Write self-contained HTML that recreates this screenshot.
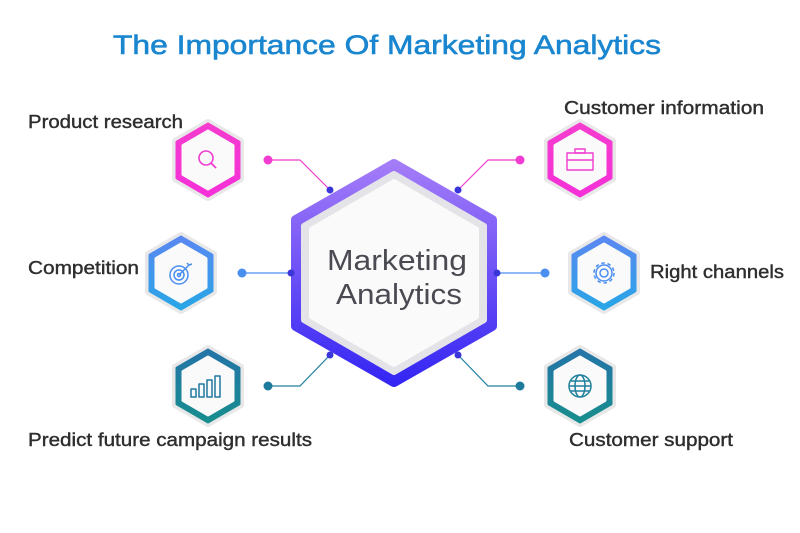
<!DOCTYPE html>
<html><head><meta charset="utf-8"><style>
html,body{margin:0;padding:0;background:#fff;}
svg{display:block;font-family:"Liberation Sans",sans-serif;}
</style></head><body>
<svg width="800" height="533" viewBox="0 0 800 533" xmlns="http://www.w3.org/2000/svg">
<defs>
<linearGradient id="gc" x1="0" y1="0" x2="0" y2="1"><stop offset="0" stop-color="#a47cf8"/><stop offset="1" stop-color="#3526f4"/></linearGradient>
<linearGradient id="gp" x1="0" y1="0" x2="0" y2="1"><stop offset="0" stop-color="#f53ccf"/><stop offset="1" stop-color="#f530d8"/></linearGradient>
<linearGradient id="gb" x1="0" y1="0" x2="0" y2="1"><stop offset="0" stop-color="#5a88f2"/><stop offset="1" stop-color="#28a6e6"/></linearGradient>
<linearGradient id="gt" x1="0" y1="0" x2="0" y2="1"><stop offset="0" stop-color="#2474a8"/><stop offset="1" stop-color="#188e8e"/></linearGradient>
</defs>
<text x="113" y="54" font-size="27" fill="#1a86d0" stroke="#1a86d0" stroke-width="0.6" textLength="548" lengthAdjust="spacingAndGlyphs">The Importance Of Marketing Analytics</text>

<g stroke-width="1.2" fill="none">
<polyline points="268,160 300,160 330,190" stroke="#f03cd0"/>
<polyline points="520,160 488,160 458,190" stroke="#f03cd0"/>
<polyline points="242,273 291,273" stroke="#4a8ef0"/>
<polyline points="545,273 497,273" stroke="#4a8ef0"/>
<polyline points="268,386 300,386 330,355" stroke="#2080a0"/>
<polyline points="520,386 488,386 458,355" stroke="#2080a0"/>
</g>
<g>
<circle cx="268" cy="160" r="4.5" fill="#f03cd0"/><circle cx="520" cy="160" r="4.5" fill="#f03cd0"/>
<circle cx="242" cy="273" r="4.5" fill="#4a8ef0"/><circle cx="545" cy="273" r="4.5" fill="#4a8ef0"/>
<circle cx="268" cy="386" r="4.5" fill="#1f7b9c"/><circle cx="520" cy="386" r="4.5" fill="#1f7b9c"/>
</g>

<polygon points="394,164 492,220 492,326 394,382 296,326 296,220" fill="url(#gc)" stroke="url(#gc)" stroke-width="10" stroke-linejoin="round"/>
<polygon points="394,174 484,226 484,320 394,372 304,320 304,226" fill="#e4e4e8" stroke="#e4e4e8" stroke-width="6" stroke-linejoin="round"/>
<polygon points="394,181 477,229 477,317 394,365 311,317 311,229" fill="#fafafa" stroke="#fafafa" stroke-width="4" stroke-linejoin="round"/>
<g fill="#3b36d8"><circle cx="330" cy="190" r="3.5"/><circle cx="458" cy="190" r="3.5"/><circle cx="291" cy="273" r="3.5"/><circle cx="497" cy="273" r="3.5"/><circle cx="330" cy="355" r="3.5"/><circle cx="458" cy="355" r="3.5"/></g>
<text x="397" y="270" font-size="29" fill="#4a4a52" text-anchor="middle" textLength="140" lengthAdjust="spacingAndGlyphs">Marketing</text>
<text x="399" y="304" font-size="29" fill="#4a4a52" text-anchor="middle" textLength="126" lengthAdjust="spacingAndGlyphs">Analytics</text>

<g stroke-linejoin="round">
<g transform="translate(208,160)">
<polygon points="0,-38 33,-19 33,19 0,38 -33,19 -33,-19" fill="#e8e8e8" stroke="#e8e8e8" stroke-width="6"/>
<polygon points="0,-36 31,-18 31,18 0,36 -31,18 -31,-18" fill="url(#gp)" stroke="url(#gp)" stroke-width="3"/>
<polygon points="0,-29 25,-14.5 25,14.5 0,29 -25,14.5 -25,-14.5" fill="#fafafa" stroke="#fafafa" stroke-width="3"/>
<circle cx="-2" cy="-2" r="7" fill="none" stroke="#f03cd0" stroke-width="1.6"/><line x1="3" y1="3" x2="8" y2="8" stroke="#f03cd0" stroke-width="1.8"/>
</g>
<g transform="translate(580,160)">
<polygon points="0,-38 33,-19 33,19 0,38 -33,19 -33,-19" fill="#e8e8e8" stroke="#e8e8e8" stroke-width="6"/>
<polygon points="0,-36 31,-18 31,18 0,36 -31,18 -31,-18" fill="url(#gp)" stroke="url(#gp)" stroke-width="3"/>
<polygon points="0,-29 25,-14.5 25,14.5 0,29 -25,14.5 -25,-14.5" fill="#fafafa" stroke="#fafafa" stroke-width="3"/>
<g fill="none" stroke="#f03cd0" stroke-width="1.4"><rect x="-13" y="-7" width="26" height="17"/><rect x="-5" y="-11" width="10" height="4"/><line x1="-13" y1="0" x2="13" y2="0"/></g>
</g>
<g transform="translate(181,273)">
<polygon points="0,-38 33,-19 33,19 0,38 -33,19 -33,-19" fill="#e8e8e8" stroke="#e8e8e8" stroke-width="6"/>
<polygon points="0,-36 31,-18 31,18 0,36 -31,18 -31,-18" fill="url(#gb)" stroke="url(#gb)" stroke-width="3"/>
<polygon points="0,-29 25,-14.5 25,14.5 0,29 -25,14.5 -25,-14.5" fill="#fafafa" stroke="#fafafa" stroke-width="3"/>
<g fill="none" stroke="#4a8ef0" stroke-width="1.5"><circle cx="-2" cy="2" r="9"/><circle cx="-2" cy="2" r="5"/><circle cx="-2" cy="2" r="1.5"/><line x1="-2" y1="2" x2="8" y2="-8"/><path d="M6,-10 L8,-8 L11,-9"/></g>
</g>
<g transform="translate(604,273)">
<polygon points="0,-38 33,-19 33,19 0,38 -33,19 -33,-19" fill="#e8e8e8" stroke="#e8e8e8" stroke-width="6"/>
<polygon points="0,-36 31,-18 31,18 0,36 -31,18 -31,-18" fill="url(#gb)" stroke="url(#gb)" stroke-width="3"/>
<polygon points="0,-29 25,-14.5 25,14.5 0,29 -25,14.5 -25,-14.5" fill="#fafafa" stroke="#fafafa" stroke-width="3"/>
<g fill="none" stroke="#4a8ef0" stroke-width="1.5"><circle r="10" stroke-dasharray="3.5 2.8"/><circle r="8"/><circle r="4"/></g>
</g>
<g transform="translate(208,386)">
<polygon points="0,-38 33,-19 33,19 0,38 -33,19 -33,-19" fill="#e8e8e8" stroke="#e8e8e8" stroke-width="6"/>
<polygon points="0,-36 31,-18 31,18 0,36 -31,18 -31,-18" fill="url(#gt)" stroke="url(#gt)" stroke-width="3"/>
<polygon points="0,-29 25,-14.5 25,14.5 0,29 -25,14.5 -25,-14.5" fill="#fafafa" stroke="#fafafa" stroke-width="3"/>
<g fill="none" stroke="#2077a0" stroke-width="1.5"><rect x="-17" y="3" width="5" height="8"/><rect x="-9" y="-2" width="5" height="13"/><rect x="-1" y="-6" width="5" height="17"/><rect x="7" y="-10" width="5" height="21"/></g>
</g>
<g transform="translate(580,386)">
<polygon points="0,-38 33,-19 33,19 0,38 -33,19 -33,-19" fill="#e8e8e8" stroke="#e8e8e8" stroke-width="6"/>
<polygon points="0,-36 31,-18 31,18 0,36 -31,18 -31,-18" fill="url(#gt)" stroke="url(#gt)" stroke-width="3"/>
<polygon points="0,-29 25,-14.5 25,14.5 0,29 -25,14.5 -25,-14.5" fill="#fafafa" stroke="#fafafa" stroke-width="3"/>
<g fill="none" stroke="#1f7f9c" stroke-width="1.5"><circle r="11"/><ellipse rx="5" ry="11"/><line x1="-11" y1="0" x2="11" y2="0"/><line x1="-9" y1="-5" x2="9" y2="-5"/><line x1="-9" y1="5" x2="9" y2="5"/></g>
</g>
</g>

<g font-size="18" fill="#2e2e2e" stroke="#2e2e2e" stroke-width="0.4">
<text x="28" y="128" textLength="155" lengthAdjust="spacingAndGlyphs">Product research</text>
<text x="564" y="114" textLength="200" lengthAdjust="spacingAndGlyphs">Customer information</text>
<text x="28" y="274" textLength="111" lengthAdjust="spacingAndGlyphs">Competition</text>
<text x="650" y="278" textLength="134" lengthAdjust="spacingAndGlyphs">Right channels</text>
<text x="28" y="446" textLength="284" lengthAdjust="spacingAndGlyphs">Predict future campaign results</text>
<text x="569" y="446" textLength="164" lengthAdjust="spacingAndGlyphs">Customer support</text>
</g>
</svg>
</body></html>
